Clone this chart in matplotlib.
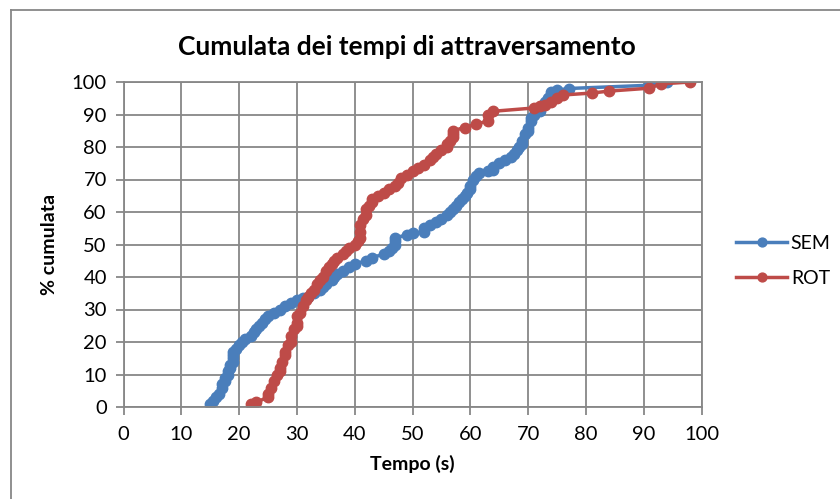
import matplotlib
matplotlib.use("Agg")
import matplotlib.pyplot as plt
from matplotlib.lines import Line2D

# cumulative crossing times, seconds vs cumulative percentage
sem_t = [15, 15.5, 16, 16.5, 17, 17, 17.5, 17.5, 18, 18, 18.5, 18.5, 19, 19, 19, 19,
         19.5, 20, 20.5, 21, 22, 22.5, 23, 23.5, 24, 24.5, 25, 26, 27, 28, 29, 30,
         31, 32, 33, 34, 34.5, 35, 36, 36.5, 37, 38, 39, 40, 42, 43, 45, 46, 46.5,
         47, 47, 47, 49, 50, 52, 52, 53, 54, 55, 56, 56.5, 57, 57.5, 58, 58.5, 59,
         59.5, 60, 60, 60.5, 61, 61.5, 63, 64, 64, 65, 66, 67, 67.5, 68, 68.5, 69,
         69, 69.5, 70, 70, 70.5, 70.5, 71, 72, 72.5, 73, 73.5, 74, 74, 75, 77, 91, 94]
sem_pct = [1, 2, 3, 4, 6, 7, 8, 9, 10, 11, 12, 13, 14, 15, 16, 17,
           18, 19, 20, 21, 22, 23, 24, 25, 26, 27, 28, 29, 30, 31, 32, 33,
           33.5, 34, 35, 36, 37, 38, 39, 40, 41, 42, 43, 44, 45, 46, 47, 48, 49,
           50, 51, 52, 53, 53.5, 54, 55, 56, 57, 58, 59, 60, 61, 62, 63, 64, 65,
           66, 67, 68, 70, 71, 72, 72.5, 73, 74, 75, 76, 77, 78, 79, 80, 81,
           82, 84, 85, 86, 88, 89, 90, 91, 93, 94, 95, 96, 97, 97.5, 98, 99, 100]

rot_t = [22, 23, 25, 25, 25.5, 26, 26.5, 27, 27, 27.5, 28, 28, 28.5, 29, 29, 29.5,
         30, 30, 30, 30.5, 31, 31.5, 32, 32.5, 33, 33.5, 34, 34.5, 35, 35.5, 36,
         36.5, 37, 38, 38.5, 39, 40, 40.5, 41, 41, 41, 41.5, 42, 42, 42.5, 43, 43,
         44, 45, 46, 47, 47.5, 48, 49, 50, 51, 52, 53, 53.5, 54, 55, 56, 56, 56.5,
         57, 57, 57, 59, 61, 63, 63, 64, 71, 72, 73, 74, 75, 76, 81, 84, 91, 93, 98]
rot_pct = [1, 1.5, 3, 4, 6, 8, 10, 11, 12, 14, 16, 17, 19, 20, 22, 24,
           25, 26, 28, 29, 31, 33, 34, 35, 36, 38, 39, 40, 42, 43, 44,
           45, 46, 47, 48, 49, 50, 51, 52, 54, 56, 58, 59, 61, 62, 63, 64,
           65, 66, 67, 68, 69, 70.5, 71.5, 72.5, 73.5, 74.5, 76, 77, 78, 79, 80, 81, 82,
           83, 84, 85, 86, 87, 88, 90, 91, 92, 92.5, 93, 94, 95, 96, 96.6, 97.2, 98.1, 99.4, 100]

ticks = list(range(0, 101, 10))

plt.rcParams["font.family"] = ["Lato", "DejaVu Sans"]

fig = plt.figure(figsize=(8.4, 4.99), dpi=100)
ax = fig.add_axes([123.5 / 840, 92 / 499, 578 / 840, 325 / 499])

grid_c = "#878787"
ax.plot(sem_t, sem_pct, "-o", color="#4A7EBB", lw=2.5, ms=7.5, label="SEM")
ax.plot(rot_t, rot_pct, "-o", color="#BE4B48", lw=2.5, ms=7.5, label="ROT")

ax.set_xlim(0, 100)
ax.set_ylim(0, 100)
ax.set_xticks(ticks)
ax.set_yticks(ticks)
ax.grid(True, color=grid_c, lw=1.3)
ax.set_axisbelow(True)
for s in ax.spines.values():
    s.set_color(grid_c)
    s.set_linewidth(1.3)
ax.tick_params(colors=grid_c, labelcolor="black", labelsize=14.5, length=6, width=1.3,
               direction="out")
ax.tick_params(axis="x", pad=8)
ax.tick_params(axis="y", pad=6)

ax.set_xlabel("Tempo (s)", fontsize=14, fontweight="bold", labelpad=8)
ax.set_ylabel("% cumulata", fontsize=14, fontweight="bold", labelpad=10)
fig.text(407 / 840, 1 - 47 / 499, "Cumulata dei tempi di attraversamento",
         ha="center", va="center", fontsize=19, fontweight="bold")

ax.legend(loc="center left", bbox_to_anchor=(1.03, 0.45), frameon=False,
          fontsize=14, handlelength=2.6, labelspacing=0.9, handletextpad=0.2,
          markerscale=0.85)

# chart border
fig.add_artist(Line2D([11 / 840, 11 / 840], [0, 1 - 10 / 499], transform=fig.transFigure,
                      color=grid_c, lw=1.3))
fig.add_artist(Line2D([11 / 840, 1], [1 - 10 / 499, 1 - 10 / 499], transform=fig.transFigure,
                      color=grid_c, lw=1.3))

fig.savefig("out.png", dpi=100)
